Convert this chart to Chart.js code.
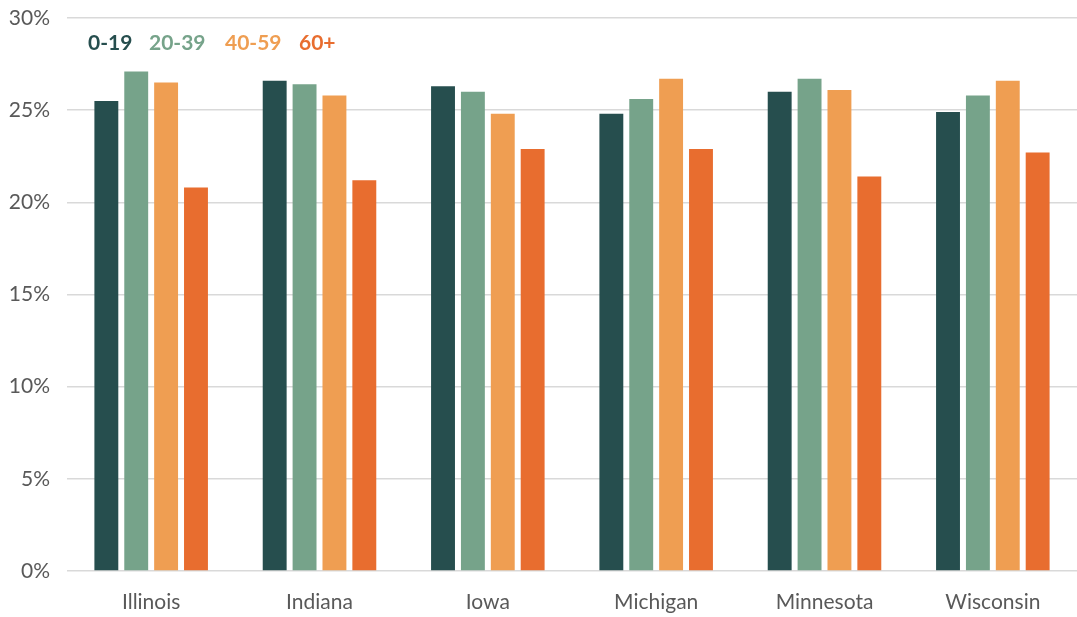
<!DOCTYPE html>
<html>
<head>
<meta charset="utf-8">
<script src="https://cdn.jsdelivr.net/npm/chart.js@4"></script>
<style>
  html, body { margin: 0; padding: 0; background: #fff; }
  #wrap { position: relative; width: 1077px; height: 617px; }
  #legend { position: absolute; left: 0; top: 29px; font-family: Lato, sans-serif; font-weight: bold; font-size: 21px; white-space: nowrap; }
  #legend span { position: absolute; top: 0; }
</style>
</head>
<body>
<div id="wrap">
  <canvas id="chart" width="1077" height="617"></canvas>
  <div id="legend"></div>
</div>
<script>
// states along the x axis
const states = ['Illinois', 'Indiana', 'Iowa', 'Michigan', 'Minnesota', 'Wisconsin'];

// share of population by age group (%)
const age0to19 = [25.5, 26.6, 26.3, 24.8, 26.0, 24.9];
const age20to39 = [27.1, 26.4, 26.0, 25.6, 26.7, 25.8];
const age40to59 = [26.5, 25.8, 24.8, 26.7, 26.1, 26.6];
const age60plus = [20.8, 21.2, 22.9, 22.9, 21.4, 22.7];

const seriesNames = ['0-19', '20-39', '40-59', '60+'];
const seriesColors = ['#264e4e', '#76a38a', '#ef9e52', '#e86d2f'];

const yTicks = [0, 5, 10, 15, 20, 25, 30];

// legend as coloured bold text, no boxes
const legendLeft = [88, 149, 225, 299];
const legend = document.getElementById('legend');
seriesNames.forEach((name, i) => {
    let s = document.createElement('span');
    s.textContent = name;
    s.style.color = seriesColors[i];
    s.style.left = legendLeft[i] + 'px';
    legend.appendChild(s);
});

const allSeries = [age0to19, age20to39, age40to59, age60plus];

new Chart(document.getElementById('chart'), {
    type: 'bar',
    data: {
        labels: states,
        datasets: allSeries.map((vals, i) => ({
            label: seriesNames[i],
            data: vals,
            backgroundColor: seriesColors[i],
            categoryPercentage: 0.71,
            barPercentage: 0.8
        }))
    },
    options: {
        responsive: false,
        animation: false,
        layout: { padding: { top: 8, right: 0, left: 0, bottom: 0 } },
        plugins: { legend: { display: false }, tooltip: { enabled: false } },
        scales: {
            x: {
                grid: { display: false },
                border: { display: false },
                ticks: { color: '#595959', font: { family: 'Lato', size: 21 }, padding: 11 },
                afterFit: axis => { axis.height = 46; }
            },
            y: {
                min: 0,
                max: 30,
                afterBuildTicks: axis => { axis.ticks = yTicks.map(v => ({ value: v })); },
                grid: { color: '#d9d9d9', lineWidth: 1.5, drawTicks: false },
                border: { display: false },
                ticks: {
                    color: '#595959',
                    font: { family: 'Lato', size: 21 },
                    padding: 17,
                    callback: v => v + '%'
                },
                afterFit: axis => { axis.width = 67; axis.paddingTop = 18; axis.paddingBottom = 0; }
            }
        }
    }
});
</script>
</body>
</html>
